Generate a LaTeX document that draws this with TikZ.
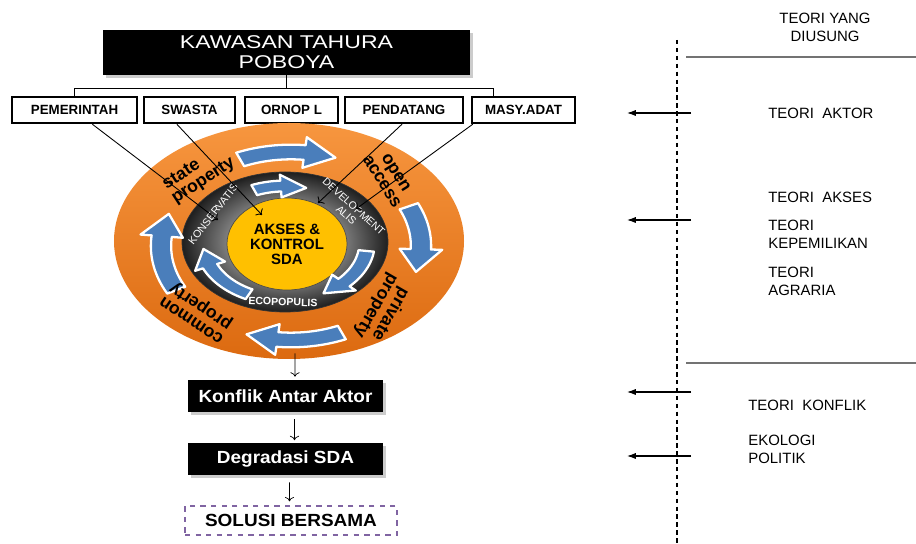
\documentclass[tikz,border=0pt]{standalone}
\usepackage{fontspec}
\setmainfont{Liberation Sans}
\newfontfamily\titlefont[FakeStretch=1.25]{Liberation Sans}
\newfontfamily\flowfont[FakeStretch=1.08]{Liberation Sans}
\usepackage{tikz}
\usetikzlibrary{positioning, calc, shapes.geometric, shadows, arrows.meta}

\definecolor{laranja}{HTML}{F7963F}
\definecolor{laranjaesc}{HTML}{DC6A10}
\definecolor{azulseta}{HTML}{4A7EBB}
\definecolor{amarelo}{HTML}{FFC000}
\definecolor{roxo}{HTML}{8064A2}

\pgfdeclareradialshading{anelcinza}{\pgfpoint{0bp}{0bp}}{color(0bp)=(black!50); color(14bp)=(black!50); color(25bp)=(black!88); color(50bp)=(black!88)}

% seta curva ao longo de uma elipse: cx, cy, rx, ry, meia largura, ang. inicial, ang. final, ponta
\newcommand{\setaanel}[8]{%
  \pgfmathsetmacro{\angb}{#7-#8*sign(#7-#6)}
  \filldraw[setaazul]
    plot[domain=#6:\angb, samples=24] ({#1+#3*(1+#5)*cos(\x)},{#2+#4*(1+#5)*sin(\x)})
    -- ({#1+#3*(1+2.1*#5)*cos(\angb)},{#2+#4*(1+2.1*#5)*sin(\angb)})
    -- ({#1+#3*cos(#7)},{#2+#4*sin(#7)})
    -- ({#1+#3*(1-2.1*#5)*cos(\angb)},{#2+#4*(1-2.1*#5)*sin(\angb)})
    -- plot[domain=\angb:#6, samples=24] ({#1+#3*(1-#5)*cos(\x)},{#2+#4*(1-#5)*sin(\x)})
    -- cycle;
}

\begin{document}
\begin{tikzpicture}[x=0.2mm, y=-0.2mm,
  titulo/.style={fill=black, text=white, align=center, font=\titlefont\fontsize{10.5}{11.5}\selectfont,
    minimum width=73.4mm, minimum height=9mm, drop shadow={shadow xshift=1.5pt, shadow yshift=-1.5pt, fill=black!40}},
  ator/.style={draw=black, line width=1.4pt, fill=white, font=\bfseries\fontsize{7.6}{9}\selectfont,
    minimum height=5.2mm, inner sep=1pt},
  caixa/.style={fill=black, text=white, font=\flowfont\bfseries\fontsize{10}{12}\selectfont,
    minimum width=39mm, minimum height=6.4mm, drop shadow={shadow xshift=1.5pt, shadow yshift=-1.5pt, fill=black!40}},
  setaazul/.style={fill=azulseta, draw=white, line width=1.3pt, line join=round},
  rotulo/.style={font=\bfseries\fontsize{10}{9.5}\selectfont, align=center, inner sep=0pt},
  anel/.style={text=white, font=\fontsize{6}{6.5}\selectfont, align=center, inner sep=0pt},
  teoria/.style={anchor=west, align=left, font=\fontsize{8.5}{10.2}\selectfont, inner sep=0pt},
  setateoria/.style={-{Latex[length=5pt, width=3.5pt]}, line width=0.6pt},
  ligacao/.style={->, line width=0.5pt}
]
  \useasboundingbox (0,0) rectangle (916,544);

  % Titulo
  \node[titulo] (title) at (286.5,52.5) {KAWASAN TAHURA\\POBOYA};

  % Atores
  \node[ator, minimum width=25mm] (pem) at (74.5,110) {PEMERINTAH};
  \node[ator, minimum width=18.2mm] (swa) at (189.5,110) {SWASTA};
  \node[ator, minimum width=18.6mm] (orn) at (291.5,110) {ORNOP L};
  \node[ator, minimum width=23.6mm] (pen) at (404,110) {PENDATANG};
  \node[ator, minimum width=20.6mm] (mas) at (523.5,110) {MASY.ADAT};

  % Chave do titulo
  \draw (title.south) -- ++(0,13) coordinate (brk);
  \draw (pem.north) |- (brk) -| ($(mas.north west)+(23,0)$);

  % Elipses
  \node[ellipse, minimum width=70mm, minimum height=47.2mm, inner sep=0pt,
    top color=laranja, bottom color=laranjaesc] (orng) at (289,241) {};
  \node[ellipse, minimum width=41.2mm, minimum height=28mm, inner sep=0pt,
    draw=black!80, shade, shading=anelcinza] (ring) at (285,242) {};
  \node[ellipse, minimum width=24mm, minimum height=18.4mm, inner sep=0pt, fill=amarelo, draw=black!70,
    align=center, font=\bfseries\fontsize{8.5}{8.5}\selectfont] (core) at (287,244) {AKSES \&\\KONTROL\\SDA};

  % Setas azuis de fora
  \setaanel{291}{246}{130}{94}{0.078}{-113}{-70}{14}
  \setaanel{291}{246}{130}{94}{0.078}{-25}{16}{14}
  \setaanel{291}{246}{130}{94}{0.078}{67}{110}{14}
  \setaanel{291}{246}{130}{94}{0.078}{152}{200}{14}

  % Setas azuis de dentro
  \setaanel{285}{243}{82}{57}{0.095}{-112}{-75}{18}
  \setaanel{285}{243}{82}{57}{0.095}{8}{62}{18}
  \setaanel{285}{243}{82}{57}{0.095}{116}{174}{18}

  % Rotulos do anel laranja
  \node[rotulo, rotate=33, align=left] (lState) at (199,174) {state\\property};
  \node[rotulo, rotate=-58] (lOpen) at (389,177) {open\\access};
  \node[rotulo, rotate=-120] (lPrivate) at (383,310) {private\\property};
  \node[rotulo, rotate=146] (lCommon) at (197,312) {common\\property};

  % Rotulos do anel cinza
  \node[anel, rotate=52] (lKons) at (213,214) {KONSERVATIS};
  \node[anel, rotate=-42] (lDev) at (350,211) {DEVELOPMENT\\ALIS};
  \node[anel, rotate=-2, font=\bfseries\fontsize{6}{6.5}\selectfont] (lEco) at (283,302) {ECOPOPULIS};

  % Ligacoes dos atores
  \coordinate (tPem) at (218,220);
  \coordinate (tSwa) at (262,215);
  \coordinate (tPen) at (318,203);
  \coordinate (tMas) at (356,209);
  \draw[ligacao] ($(pem.south)!0.28!(pem.south east)$) -- (tPem);
  \draw[ligacao] ($(swa.south)!0.27!(swa.south west)$) -- (tSwa);
  \draw[ligacao] ($(pen.south)+(-2,0)$) -- (tPen);
  \draw[ligacao] ($(mas.south west)+(2,0)$) -- (tMas);

  % Fluxo de baixo
  \node[caixa] (konf) at (285.5,396) {Konflik Antar Aktor};
  \node[caixa] (degr) at (285.5,459) {Degradasi SDA};
  \node[draw=roxo, dashed, line width=0.8pt, minimum width=42.4mm, minimum height=5.8mm,
    font=\flowfont\bfseries\fontsize{10}{12}\selectfont] (sol) at (291,520.5) {SOLUSI BERSAMA};

  \draw[->] ($(orng.south)+(6,-6)$) -- ($(konf.north)+(9.5,-3)$);
  \draw[->, shorten <=1.4mm, shorten >=0.5mm] ($(konf.south)+(9,0)$) -- ($(degr.north)+(9,0)$);
  \draw[->, shorten <=1.4mm, shorten >=0.8mm] ($(degr.south)+(4,0)$) -- ($(sol.north)+(-1.5,0)$);

  % Coluna das teorias
  \draw[dash pattern=on 2.5pt off 2pt, line width=0.6pt] (677,40) -- (677,544);
  \draw[black!55, line width=1pt] (686,57) -- (916,57);
  \draw[black!55, line width=1pt] (686,363) -- (916,363);

  \node[teoria, anchor=center, align=center] (tDiusung) at (825,27) {TEORI YANG\\DIUSUNG};
  \node[teoria] (tAktor) at (768,113) {TEORI~ AKTOR};
  \node[teoria] (tAkses) at (768,197) {TEORI~ AKSES};
  \node[teoria] (tMilik) at (768,234) {TEORI\\KEPEMILIKAN};
  \node[teoria] (tAgraria) at (768,281) {TEORI\\AGRARIA};
  \node[teoria] (tKonflik) at (748,405) {TEORI~ KONFLIK};
  \node[teoria] (tEkologi) at (748,449) {EKOLOGI\\POLITIK};

  % Setas das teorias
  \foreach \y/\n in {113/1, 220/2, 392/3, 456/4} {
    \coordinate (a\n) at (691,\y);
    \coordinate (b\n) at (627,\y);
    \draw[setateoria] (a\n) -- (b\n);
  }
\end{tikzpicture}
\end{document}
